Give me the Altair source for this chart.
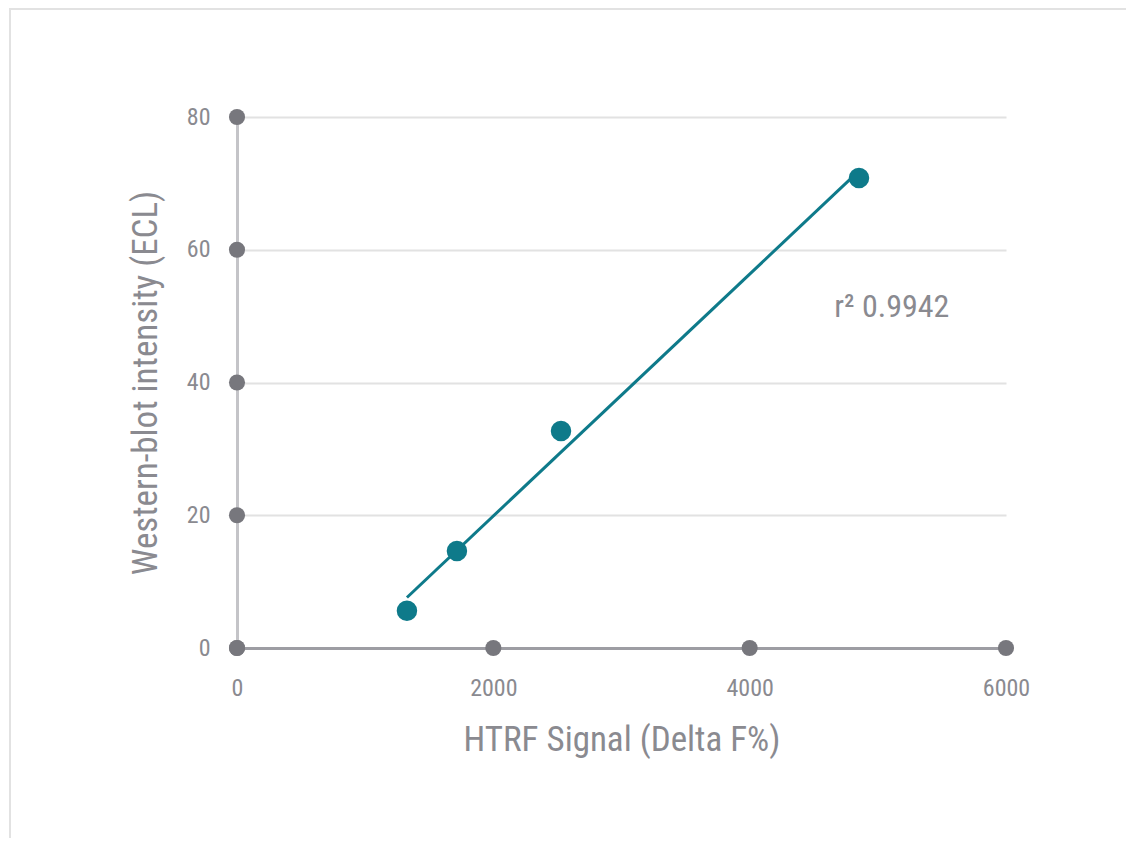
import altair as alt
import pandas as pd

# Data
htrf_signal = [1326, 1716, 2528, 4853]
western_blot = [5.6, 14.6, 32.7, 70.8]
x_ticks = [0, 2000, 4000, 6000]
y_ticks = [0, 20, 40, 60, 80]
r2_label = "r\u00b2 0.9942"

FONT = "Liberation Sans Narrow, Roboto Condensed, Roboto, sans-serif"
TEAL = "#0e7a8a"
GRAY_TXT = "#8a8a90"
DOT = "#77777d"

pts = pd.DataFrame({"x": htrf_signal, "y": western_blot})
xdots = pd.DataFrame({"x": x_ticks, "y": [0] * len(x_ticks)})
ydots = pd.DataFrame({"x": [0] * len(y_ticks), "y": y_ticks})

xscale = alt.Scale(domain=[0, 6000], nice=False, zero=True)
yscale = alt.Scale(domain=[0, 80], nice=False, zero=True)

xenc = alt.X(
    "x:Q",
    scale=xscale,
    title="HTRF Signal (Delta F%)",
    axis=alt.Axis(
        values=x_ticks, format="d", grid=False, ticks=False, labelFlush=False,
        labelPadding=28, labelFontSize=24, labelColor=GRAY_TXT, labelFont=FONT,
        titleFontSize=35, titleColor=GRAY_TXT, titleFont=FONT, titleFontWeight="normal",
        titlePadding=22, domainColor="#9d9da3", domainWidth=3,
    ),
)
yenc = alt.Y(
    "y:Q",
    scale=yscale,
    title="Western-blot intensity (ECL)",
    axis=alt.Axis(
        values=y_ticks, format="d", grid=True, gridColor="#e2e2e2", gridWidth=2,
        ticks=False, labelFlush=False, labelPadding=27, labelFontSize=24,
        labelColor=GRAY_TXT, labelFont=FONT,
        titleFontSize=35, titleColor=GRAY_TXT, titleFont=FONT, titleFontWeight="normal",
        titlePadding=23, domainColor="#c4c4c8", domainWidth=3,
    ),
)

frame = alt.Chart(pd.DataFrame({"a": [0]})).mark_rect(
    filled=False, stroke="#e2e2e2", strokeWidth=2
).encode(
    x=alt.value(-227), x2=alt.value(1100), y=alt.value(-108), y2=alt.value(1000)
)

tick_x = alt.Chart(xdots).mark_circle(size=260, color=DOT, opacity=1).encode(
    x=alt.X("x:Q", scale=xscale), y=alt.Y("y:Q", scale=yscale)
)
tick_y = alt.Chart(ydots).mark_circle(size=260, color=DOT, opacity=1).encode(
    x=alt.X("x:Q", scale=xscale), y=alt.Y("y:Q", scale=yscale)
)

base = alt.Chart(pts)
line = base.transform_regression("x", "y").mark_line(color=TEAL, strokeWidth=3).encode(
    x=xenc, y=yenc
)
points = base.mark_circle(size=420, color=TEAL, opacity=1).encode(
    x=alt.X("x:Q", scale=xscale), y=alt.Y("y:Q", scale=yscale)
)
label = alt.Chart(pd.DataFrame({"t": [r2_label]})).mark_text(
    align="left", baseline="middle", fontSize=32, font=FONT, color=GRAY_TXT
).encode(x=alt.datum(4660), y=alt.datum(51.4), text="t:N")

chart = alt.layer(line, frame, tick_x, tick_y, points, label).properties(
    width=769,
    height=531,
    padding={"left": 229, "top": 109, "right": 120, "bottom": 190},
    autosize=alt.AutoSizeParams(type="none"),
    background="white",
).configure_view(stroke=None)

chart.save("out.html", embed_options={"renderer": "svg", "actions": False})
